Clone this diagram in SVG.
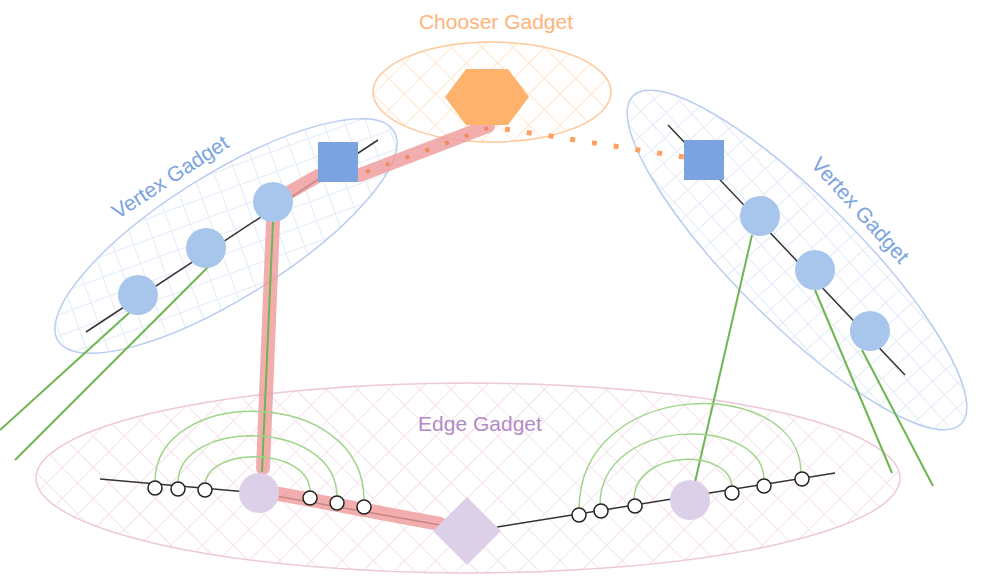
<svg xmlns="http://www.w3.org/2000/svg" width="1000" height="576" viewBox="0 0 1000 576">
<style>
.lbl{font-family:"Liberation Sans",Arial,sans-serif;font-size:21px;text-anchor:middle}
.blk{stroke:#333;stroke-width:1.5;fill:none}
.vc{fill:#a8c5ec}
.sq{fill:#7aa3df}
.oc{fill:#fff;stroke:#222;stroke-width:1.5}
.pc{fill:#dcd0e8}
.g{stroke:#6fb552;stroke-width:2;fill:none}
.ga{stroke:#9fd588;stroke-width:1.5;fill:none}
.red{stroke:#ef9a9a;stroke-opacity:0.8;stroke-width:14;stroke-linecap:round;fill:none}
</style>
<defs>
<pattern id="hb" width="20" height="20" patternUnits="userSpaceOnUse" patternTransform="rotate(12)"><path d="M0 0H20M0 0V20" stroke="#e2ebf8" stroke-width="2"/></pattern>
<pattern id="hr" width="18" height="18" patternUnits="userSpaceOnUse" patternTransform="rotate(3)"><path d="M0 0H18M0 0V18" stroke="#e2ebf8" stroke-width="2"/></pattern>
<pattern id="ho" width="22" height="22" patternUnits="userSpaceOnUse" patternTransform="rotate(45)"><path d="M0 0H22M0 0V22" stroke="#ffe6cf" stroke-width="2"/></pattern>
<pattern id="hp" width="22" height="22" patternUnits="userSpaceOnUse" patternTransform="rotate(45)"><path d="M0 0H22M0 0V22" stroke="#f5e2eb" stroke-width="2"/></pattern>
</defs>
<g id="edge-gadget-region"><ellipse cx="468" cy="478" rx="432" ry="95" fill="url(#hp)" stroke="#ecc8da" stroke-width="1.5"/></g>
<g id="vertex-gadget-left-region"><ellipse cx="226" cy="236" rx="198" ry="62" transform="rotate(-32 226 236)" fill="url(#hb)" stroke="#b8cdef" stroke-width="1.5"/></g>
<g id="vertex-gadget-right-region"><ellipse cx="797" cy="260" rx="232" ry="62" transform="rotate(45 797 260)" fill="url(#hr)" stroke="#b8cdef" stroke-width="1.5"/></g>
<g id="chooser-gadget-region"><ellipse cx="492" cy="92" rx="119" ry="50" fill="url(#ho)" stroke="#ffc898" stroke-width="1.5"/></g>
<text class="lbl" x="496" y="29" fill="#ffb27a">Chooser Gadget</text>
<text class="lbl" x="174" y="183" fill="#7aa3df" transform="rotate(-33 174 183)">Vertex Gadget</text>
<text class="lbl" x="855" y="215" fill="#7aa3df" transform="rotate(48 855 215)">Vertex Gadget</text>
<text class="lbl" x="480" y="431" fill="#b389c6">Edge Gadget</text>
<g id="connectors">
<path class="blk" d="M86 332L378 140"/>
<path class="blk" d="M668 125L905 375"/>
<path class="blk" d="M100 479L259 493L440 525"/>
<path class="blk" d="M497 527L835 473"/>
<path class="red" d="M288 193L318 176"/>
<path class="red" d="M360 175L488 126"/>
<path class="red" d="M273 222L263 468"/>
<path class="red" d="M279 494L440 524"/>
<path d="M362 174L690 158" stroke="none" fill="none"/>
<path d="M366 172L488 128" stroke="#f08a60" stroke-width="4" stroke-dasharray="4 17" fill="none"/>
<path d="M505 129L690 158" stroke="#ffa060" stroke-width="5" stroke-dasharray="5 17" fill="none"/>
<path class="g" d="M273 222L262 472"/>
<path class="g" d="M130 312L0 430"/>
<path class="g" d="M210 265L15 460"/>
<path class="g" d="M752 235L695 482"/>
<path class="g" d="M815 290L892 473"/>
<path class="g" d="M862 350L933 486"/>
<path class="ga" d="M155 482C155 385 364 385 364 500"/>
<path class="ga" d="M178 483C178 418 337 418 337 497"/>
<path class="ga" d="M205 486C205 446 310 446 310 492"/>
<path class="ga" d="M579 510C579 375 801 375 801 473"/>
<path class="ga" d="M600 505C600 415 764 415 764 480"/>
<path class="ga" d="M634 500C634 448 732 448 732 488"/>
</g>
<g id="chooser-hex"><polygon points="445,97 466,69 508,69 529,97 508,125 466,125" fill="#ffb26b"/></g>
<g id="vl-sq"><rect x="318" y="142" width="40" height="40" class="sq"/></g>
<g id="vl-1"><circle cx="138" cy="295" r="20" class="vc"/></g>
<g id="vl-2"><circle cx="206" cy="248" r="20" class="vc"/></g>
<g id="vl-3"><circle cx="273" cy="202" r="20" class="vc"/></g>
<g id="vr-sq"><rect x="684" y="140" width="40" height="40" class="sq"/></g>
<g id="vr-1"><circle cx="760" cy="216" r="20" class="vc"/></g>
<g id="vr-2"><circle cx="815" cy="270" r="20" class="vc"/></g>
<g id="vr-3"><circle cx="870" cy="331" r="20" class="vc"/></g>
<g id="e-left"><circle cx="259" cy="493" r="20" class="pc"/></g>
<g id="e-right"><circle cx="690" cy="500" r="20" class="pc"/></g>
<g id="e-diamond"><polygon points="467,497 501,531 467,565 433,531" class="pc"/></g>
<g id="edge-ports">
<circle cx="155" cy="488" r="7" class="oc"/><circle cx="178" cy="489" r="7" class="oc"/><circle cx="205" cy="490" r="7" class="oc"/>
<circle cx="310" cy="498" r="7" class="oc"/><circle cx="337" cy="503" r="7" class="oc"/><circle cx="364" cy="507" r="7" class="oc"/>
<circle cx="579" cy="515" r="7" class="oc"/><circle cx="601" cy="511" r="7" class="oc"/><circle cx="635" cy="506" r="7" class="oc"/>
<circle cx="732" cy="493" r="7" class="oc"/><circle cx="764" cy="486" r="7" class="oc"/><circle cx="802" cy="479" r="7" class="oc"/>
</g>
</svg>
